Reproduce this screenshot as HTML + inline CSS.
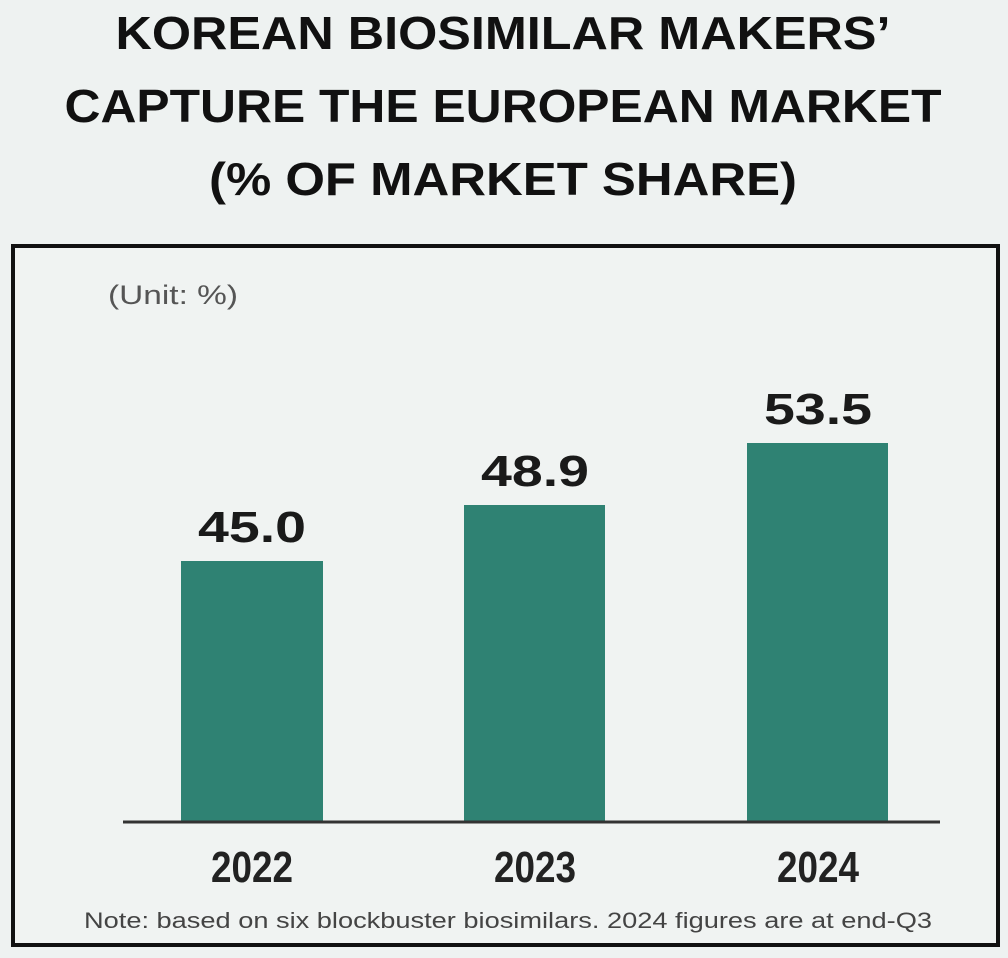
<!DOCTYPE html>
<html><head><style>
html,body{margin:0;padding:0;background:#eef2f1;}
svg{display:block}
</style></head><body>
<svg width="1008" height="958" viewBox="0 0 1008 958" xmlns="http://www.w3.org/2000/svg">
<rect width="1008" height="958" fill="#eef2f1"/>
<g font-family="Liberation Sans, sans-serif" font-weight="bold" fill="#111" font-size="46" text-anchor="middle">
<text x="503" y="49" textLength="775" lengthAdjust="spacingAndGlyphs">KOREAN BIOSIMILAR MAKERS’</text>
<text x="503" y="122" textLength="877" lengthAdjust="spacingAndGlyphs">CAPTURE THE EUROPEAN MARKET</text>
<text x="503" y="195" textLength="588" lengthAdjust="spacingAndGlyphs">(% OF MARKET SHARE)</text>
</g>
<rect x="13" y="246" width="985" height="699" fill="#f0f3f2" stroke="#111" stroke-width="4"/>
<text x="108" y="304" font-family="Liberation Sans, sans-serif" font-size="27" fill="#555" textLength="130" lengthAdjust="spacingAndGlyphs">(Unit: %)</text>
<g fill="#2f8273">
<rect x="181" y="561" width="142" height="261"/>
<rect x="464" y="505" width="141" height="317"/>
<rect x="747" y="443" width="141" height="379"/>
</g>
<line x1="123" y1="822" x2="940" y2="822" stroke="#333" stroke-width="3"/>
<g font-family="Liberation Sans, sans-serif" font-weight="bold" fill="#1a1a1a" font-size="44" text-anchor="middle">
<text x="252" y="542" textLength="108" lengthAdjust="spacingAndGlyphs">45.0</text>
<text x="535" y="486" textLength="108" lengthAdjust="spacingAndGlyphs">48.9</text>
<text x="818" y="424" textLength="108" lengthAdjust="spacingAndGlyphs">53.5</text>
</g>
<g font-family="Liberation Sans, sans-serif" font-weight="bold" fill="#222" font-size="44" text-anchor="middle">
<text x="252" y="882" textLength="82" lengthAdjust="spacingAndGlyphs">2022</text>
<text x="535" y="882" textLength="82" lengthAdjust="spacingAndGlyphs">2023</text>
<text x="818" y="882" textLength="82" lengthAdjust="spacingAndGlyphs">2024</text>
</g>
<text x="508" y="928" text-anchor="middle" font-family="Liberation Sans, sans-serif" font-size="22" fill="#444" textLength="848" lengthAdjust="spacingAndGlyphs">Note: based on six blockbuster biosimilars. 2024 figures are at end-Q3</text>
</svg>
</body></html>
